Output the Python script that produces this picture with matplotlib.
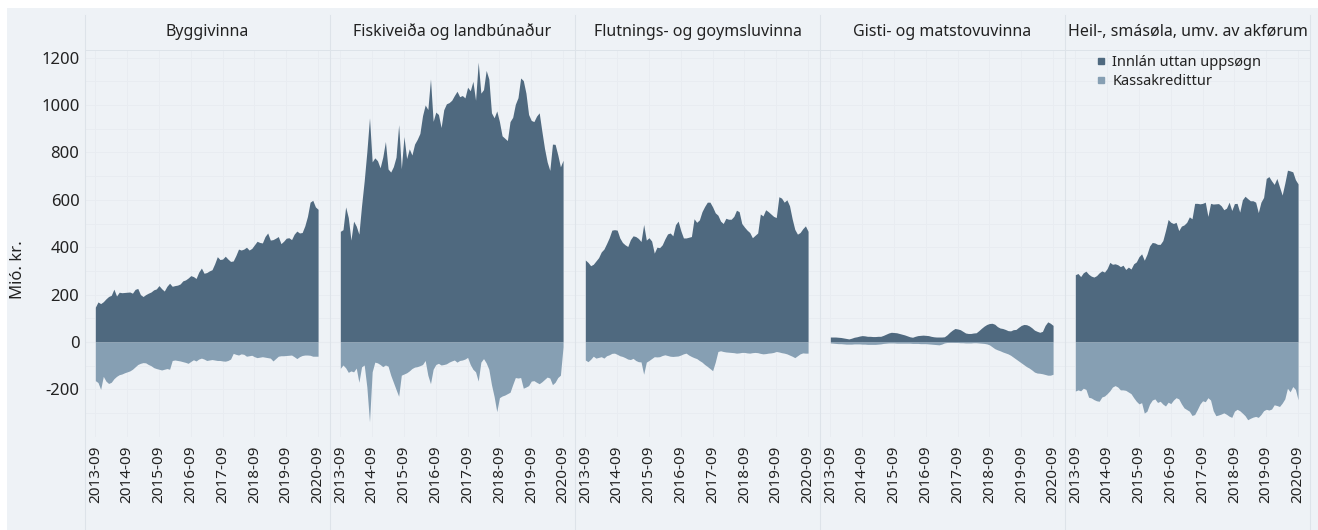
import matplotlib
matplotlib.use("Agg")
import matplotlib.pyplot as plt
from matplotlib.lines import Line2D
from matplotlib.patches import Rectangle
import numpy as np

plt.rcParams['font.family'] = ['Noto Sans', 'DejaVu Sans']

# ---------------- data ----------------
tick_labels = ["2013-09", "2014-09", "2015-09", "2016-09", "2017-09", "2018-09", "2019-09", "2020-09"]
panels = ["Byggivinna", "Fiskiveiða og landbúnaður", "Flutnings- og goymsluvinna",
          "Gisti- og matstovuvinna", "Heil-, smásøla, umv. av akførum"]
series_names = ["Innlán uttan uppsøgn", "Kassakredittur"]

bygg_innlan = [147, 169, 162, 170, 182, 192, 197, 223, 194, 210, 208, 209, 210, 211, 206, 222, 226, 200, 192, 200,
               206, 211, 220, 224, 238, 225, 215, 235, 248, 235, 238, 240, 245, 258, 262, 270, 280, 276, 268, 295,
               312, 290, 293, 300, 305, 330, 360, 348, 350, 362, 350, 340, 342, 365, 392, 388, 392, 400, 388, 395,
               410, 425, 420, 418, 445, 460, 430, 432, 438, 445, 415, 425, 438, 440, 432, 455, 468, 460, 462, 490,
               530, 590, 598, 570, 560]
bygg_kredit = [-163, -171, -200, -145, -165, -175, -170, -155, -145, -138, -135, -130, -126, -122, -115, -105, -95, -90, -87, -88,
               -95, -100, -108, -112, -115, -118, -115, -112, -115, -78, -76, -78, -80, -83, -86, -90, -82, -75, -80, -72,
               -68, -72, -78, -76, -74, -76, -78, -78, -80, -81, -78, -72, -48, -52, -55, -50, -52, -60, -58, -56,
               -62, -66, -64, -62, -64, -66, -68, -80, -70, -60, -58, -58, -57, -56, -55, -62, -70, -62, -57, -55,
               -55, -56, -60, -60, -60]

fisk_innlan = [467, 474, 570, 525, 430, 510, 489, 455, 575, 680, 803, 946, 760, 777, 765, 735, 780, 846, 730, 717,
               740, 780, 917, 731, 867, 774, 815, 789, 835, 855, 880, 955, 1000, 981, 1110, 931, 970, 960, 905, 980,
               1005, 1010, 1020, 1040, 1058, 1035, 1040, 1030, 1075, 1060, 1100, 1020, 1181, 1050, 1065, 1146, 1110, 967, 946, 975,
               930, 870, 860, 850, 930, 948, 1003, 1031, 1114, 1103, 1050, 960, 935, 930, 953, 967, 890, 817, 760, 724,
               835, 834, 790, 739, 767]
fisk_kredit = [-111, -97, -109, -128, -122, -126, -110, -170, -105, -97, -190, -337, -126, -85, -88, -95, -104, -97, -102, -140,
               -170, -200, -229, -140, -135, -130, -122, -112, -106, -104, -100, -95, -78, -140, -176, -115, -95, -90, -97, -95,
               -92, -85, -80, -76, -85, -78, -76, -72, -65, -95, -115, -126, -165, -85, -70, -88, -115, -180, -230, -294,
               -235, -228, -224, -218, -212, -180, -150, -152, -150, -195, -190, -184, -165, -163, -170, -176, -168, -158, -148, -152,
               -180, -170, -150, -140, -20]

flut_innlan = [346, 336, 322, 328, 342, 356, 380, 392, 415, 440, 472, 474, 472, 439, 420, 410, 403, 432, 448, 445,
               437, 424, 496, 430, 440, 426, 375, 400, 398, 410, 435, 456, 460, 448, 495, 510, 470, 439, 439, 442,
               445, 520, 505, 515, 550, 572, 590, 590, 570, 545, 535, 510, 500, 522, 518, 518, 530, 556, 550, 500,
               485, 472, 462, 440, 450, 460, 540, 532, 558, 550, 540, 530, 525, 613, 607, 590, 600, 575, 520, 475,
               455, 462, 478, 490, 467]
flut_kredit = [-76, -83, -73, -60, -68, -65, -62, -68, -58, -54, -48, -47, -52, -58, -61, -66, -72, -74, -69, -78,
               -83, -84, -136, -85, -78, -70, -62, -63, -62, -57, -54, -57, -60, -61, -60, -59, -55, -50, -47, -55,
               -61, -66, -70, -78, -85, -95, -103, -112, -121, -85, -40, -37, -40, -42, -43, -44, -45, -47, -46, -44,
               -44, -46, -47, -45, -44, -45, -48, -50, -49, -47, -46, -44, -40, -42, -45, -47, -50, -55, -60, -66,
               -58, -50, -46, -47, -47]

gisti_innlan = [21, 21, 21, 20, 19, 17, 15, 13, 16, 20, 22, 25, 27, 26, 24, 24, 23, 23, 24, 24,
                28, 33, 38, 41, 40, 39, 36, 33, 30, 26, 22, 20, 24, 27, 28, 29, 28, 27, 24, 22,
                21, 21, 21, 22, 30, 41, 50, 57, 55, 52, 45, 38, 36, 36, 38, 39, 48, 58, 67, 74,
                78, 79, 75, 65, 59, 57, 53, 48, 47, 52, 53, 62, 70, 74, 73, 68, 60, 50, 45, 41,
                45, 70, 85, 79, 70]
gisti_kredit = [-4, -5, -6, -7, -7, -8, -9, -9, -9, -8, -8, -8, -9, -9, -10, -10, -10, -10, -9, -8,
                -6, -5, -4, -4, -4, -5, -5, -5, -5, -5, -5, -6, -6, -6, -7, -7, -7, -8, -9, -10,
                -11, -12, -9, -4, -2, -1, -1, -2, -2, -3, -3, -4, -4, -4, -3, -3, -4, -5, -6, -8,
                -12, -20, -28, -33, -37, -42, -46, -50, -56, -64, -72, -80, -88, -96, -104, -110, -118, -127, -131, -132,
                -134, -137, -140, -140, -136]

heil_innlan = [284, 289, 276, 292, 299, 286, 278, 274, 280, 292, 300, 295, 310, 336, 328, 330, 326, 318, 324, 306,
               316, 308, 330, 338, 360, 372, 345, 370, 405, 420, 418, 412, 412, 428, 470, 517, 505, 500, 505, 470,
               489, 494, 505, 528, 520, 585, 585, 583, 585, 590, 530, 585, 582, 583, 584, 575, 558, 565, 590, 555,
               584, 585, 548, 600, 615, 605, 596, 596, 590, 546, 590, 610, 690, 698, 680, 665, 690, 655, 620, 670,
               725, 722, 718, 685, 667]
heil_kredit = [-207, -202, -206, -195, -200, -233, -236, -243, -248, -250, -232, -228, -218, -206, -190, -184, -190, -202, -202, -204,
               -211, -218, -235, -250, -261, -256, -300, -292, -262, -245, -240, -255, -250, -262, -270, -254, -260, -245, -235, -240,
               -261, -278, -285, -292, -310, -306, -285, -262, -248, -252, -235, -245, -290, -311, -308, -304, -299, -305, -313, -318,
               -292, -284, -290, -300, -311, -328, -322, -317, -314, -318, -306, -290, -284, -287, -283, -265, -268, -272, -258, -240,
               -195, -210, -188, -200, -244]

innlan = [bygg_innlan, fisk_innlan, flut_innlan, gisti_innlan, heil_innlan]
kredit = [bygg_kredit, fisk_kredit, flut_kredit, gisti_kredit, heil_kredit]

# ---------------- style ----------------
W, H = 1318, 530
DARK = "#4f697f"
LIGHT = "#869fb3"
BG = "#eef2f6"
GRID = "#e8ecf1"
SEP = "#dde3e9"
TXT = "#222222"

fig = plt.figure(figsize=(W / 100, H / 100), dpi=100, facecolor="white")
fig.add_artist(Rectangle((7 / W, 0), 1 - 7 / W, 1 - 8 / H, transform=fig.transFigure,
                         facecolor=BG, edgecolor="none", zorder=0))

panel_left0 = 85
panel_w = 245
ax_top_px = 50
ax_bot_px = 437
zero_px = 342
px_per_unit = 0.237
ymax = (zero_px - ax_top_px) / px_per_unit
ymin = -(ax_bot_px - zero_px) / px_per_unit

x = np.arange(len(bygg_innlan))
tick_pos = np.arange(0, len(x), 12)

for i, name in enumerate(panels):
    left = (panel_left0 + panel_w * i) / W
    ax = fig.add_axes([left, (H - ax_bot_px) / H, panel_w / W, (ax_bot_px - ax_top_px) / H])
    ax.set_facecolor("none")
    ax.set_xlim(-3.9, 88.5)
    ax.set_ylim(ymin, ymax)
    for s in ax.spines.values():
        s.set_visible(False)
    ax.set_yticks(np.arange(-400, 1300, 100))
    ax.grid(axis="y", color=GRID, linewidth=0.7, zorder=0)
    ax.grid(axis="x", color=GRID, linewidth=0.7, zorder=0)
    ax.axhline(0, color="#dce1e7", linewidth=0.8, zorder=1)
    ax.fill_between(x, 0, innlan[i], color=DARK, linewidth=0, zorder=2)
    ax.fill_between(x, kredit[i], 0, color=LIGHT, linewidth=0, zorder=2)
    ax.set_xticks(tick_pos)
    ax.set_xticklabels(tick_labels, rotation=90, fontsize=11, color=TXT)
    ax.tick_params(axis="x", length=0, pad=6)
    ax.tick_params(axis="y", length=0)
    if i == 0:
        ax.set_yticklabels([str(v) if v % 200 == 0 and v >= -200 else "" for v in np.arange(-400, 1300, 100)],
                           fontsize=12, color=TXT)
        ax.tick_params(axis="y", pad=4)
    else:
        ax.set_yticklabels([])
    fig.text((panel_left0 + panel_w * i + panel_w / 2) / W, 1 - 32 / H, name,
             ha="center", va="center", fontsize=11.5, color=TXT)

# strip bottom line and panel separators
fig.add_artist(Line2D([panel_left0 / W, (panel_left0 + 5 * panel_w) / W], [1 - 50 / H, 1 - 50 / H],
                      transform=fig.transFigure, color=SEP, linewidth=0.7))
for i in range(6):
    xs = (panel_left0 + panel_w * i) / W
    fig.add_artist(Line2D([xs, xs], [0, 1 - 15 / H], transform=fig.transFigure, color=SEP, linewidth=0.8))

fig.text(18 / W, 1 - 270 / H, "Mió. kr.", rotation=90, ha="center", va="center", fontsize=12, color=TXT)

handles = [Line2D([], [], marker="s", linestyle="none", markersize=5, color=DARK),
           Line2D([], [], marker="s", linestyle="none", markersize=5, color=LIGHT)]
fig.legend(handles, series_names, loc="upper left", bbox_to_anchor=(1097 / W, 1 - 55 / H),
           frameon=False, fontsize=10.5, handlelength=0.6, handletextpad=0.45,
           labelspacing=0.3, borderpad=0, borderaxespad=0, labelcolor=TXT)

fig.savefig("out.png", dpi=100, facecolor="white")
